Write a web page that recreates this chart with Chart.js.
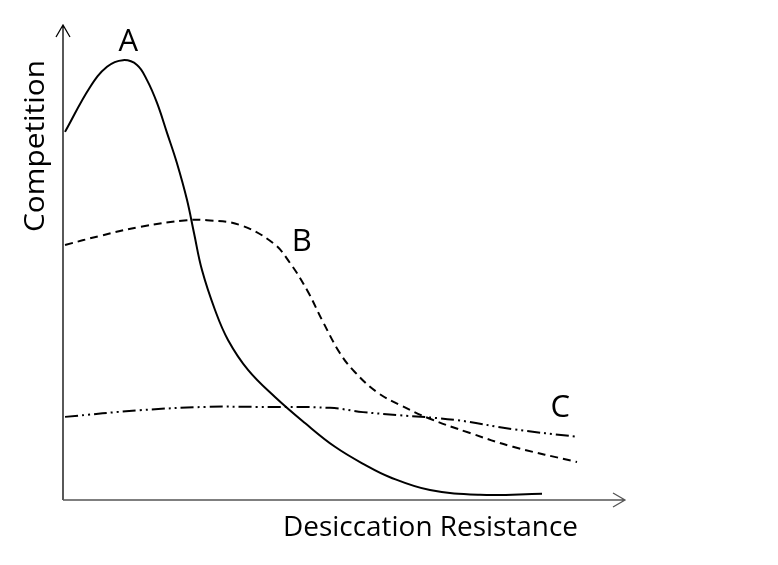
<!DOCTYPE html>
<html>
<head>
<meta charset="utf-8">
<script src="https://cdn.jsdelivr.net/npm/chart.js@4.4.0/dist/chart.umd.min.js"></script>
<style>
html,body{margin:0;padding:0;background:#fff;}
#wrap{width:778px;height:565px;}
</style>
</head>
<body>
<div id="wrap"><canvas id="c" width="778" height="565"></canvas></div>
<script>
const xTitle = "Desiccation Resistance";
const yTitle = "Competition";
const seriesNames = ["A", "B", "C"];

const aX = [0.36, 4.80, 7.83, 10.68, 13.17, 14.95, 16.73, 18.51, 20.28, 22.06, 23.31, 24.73, 27.05, 29.36, 32.92, 37.72, 43.06, 48.40, 53.74, 58.19, 65.30, 74.20, 85.23];
const aY = [77.5, 86.9, 91.2, 92.6, 91.6, 88.4, 83.6, 77.3, 70.9, 63.2, 56.2, 48.4, 40.0, 33.7, 27.4, 21.7, 16.2, 11.2, 7.4, 4.8, 2.1, 1.1, 1.3];

const bX = [0.36, 6.58, 13.70, 22.06, 25.62, 31.49, 37.37, 40.39, 43.42, 46.26, 49.29, 51.96, 55.87, 59.96, 65.30, 72.42, 80.07, 91.46];
const bY = [53.7, 55.6, 57.5, 58.9, 58.9, 57.9, 54.1, 49.9, 44.2, 37.5, 30.9, 26.9, 22.7, 20.0, 17.1, 14.1, 11.2, 8.0];

const cX = [0.36, 13.70, 25.62, 34.52, 47.51, 53.38, 59.43, 70.11, 80.07, 91.46];
const cY = [17.5, 18.9, 19.6, 19.6, 19.4, 18.5, 17.9, 16.8, 14.9, 13.3];

// label anchor positions in data units
const labelX = [11.6, 42.5, 88.5];
const labelY = [94.5, 52.5, 17.5];

function pts(xs, ys){ return xs.map((x,i)=>({x:x, y:ys[i]})); }

const axesPlugin = {
  id: 'axesArrows',
  afterDatasetsDraw(chart){
    const ctx = chart.ctx;
    const xs = chart.scales.x, ys = chart.scales.y;
    const x0 = xs.getPixelForValue(0), y0 = ys.getPixelForValue(0);
    const xEnd = xs.getPixelForValue(100), yEnd = ys.getPixelForValue(100);
    ctx.save();
    ctx.strokeStyle = '#000';
    ctx.lineWidth = 1.3;
    ctx.beginPath();
    ctx.moveTo(x0, y0); ctx.lineTo(x0, yEnd);
    ctx.moveTo(x0 - 7, yEnd + 12); ctx.lineTo(x0, yEnd); ctx.lineTo(x0 + 7, yEnd + 12);
    ctx.stroke();
    ctx.strokeStyle = '#555';
    ctx.beginPath();
    ctx.moveTo(x0, y0); ctx.lineTo(xEnd, y0);
    ctx.moveTo(xEnd - 12, y0 - 7); ctx.lineTo(xEnd, y0); ctx.lineTo(xEnd - 12, y0 + 7);
    ctx.stroke();

    // axis titles
    ctx.fillStyle = '#000';
    ctx.textBaseline = 'alphabetic';
    ctx.textAlign = 'center';
    ctx.font = '28px "Open Sans"';
    let w = ctx.measureText(xTitle).width;
    ctx.save();
    ctx.translate(430.5, 536);
    ctx.scale(295 / w, 1);
    ctx.fillText(xTitle, 0, 0);
    ctx.restore();

    w = ctx.measureText(yTitle).width;
    ctx.save();
    ctx.translate(44, 146);
    ctx.rotate(-Math.PI / 2);
    ctx.scale(172 / w, 1);
    ctx.fillText(yTitle, 0, 0);
    ctx.restore();

    // series labels
    ctx.font = '31px "Open Sans"';
    seriesNames.forEach((n, i) => {
      const px = xs.getPixelForValue(labelX[i]);
      const py = ys.getPixelForValue(labelY[i]);
      ctx.fillText(n, px, py);
    });
    ctx.restore();
  }
};

const common = { borderColor: '#000', borderWidth: 2, pointRadius: 0, tension: 0.4, fill: false };

new Chart(document.getElementById('c'), {
  type: 'line',
  data: {
    datasets: [
      Object.assign({ label: seriesNames[0], data: pts(aX, aY) }, common),
      Object.assign({ label: seriesNames[1], data: pts(bX, bY), borderDash: [8, 5] }, common),
      Object.assign({ label: seriesNames[2], data: pts(cX, cY), borderDash: [13, 4, 2, 4, 2, 4] }, common)
    ]
  },
  options: {
    responsive: false,
    animation: false,
    layout: { padding: { left: 63, right: 153, top: 25, bottom: 65 } },
    plugins: { legend: { display: false }, tooltip: { enabled: false } },
    scales: {
      x: { type: 'linear', min: 0, max: 100, display: false },
      y: { type: 'linear', min: 0, max: 100, display: false }
    }
  },
  plugins: [axesPlugin]
});
</script>
</body>
</html>
